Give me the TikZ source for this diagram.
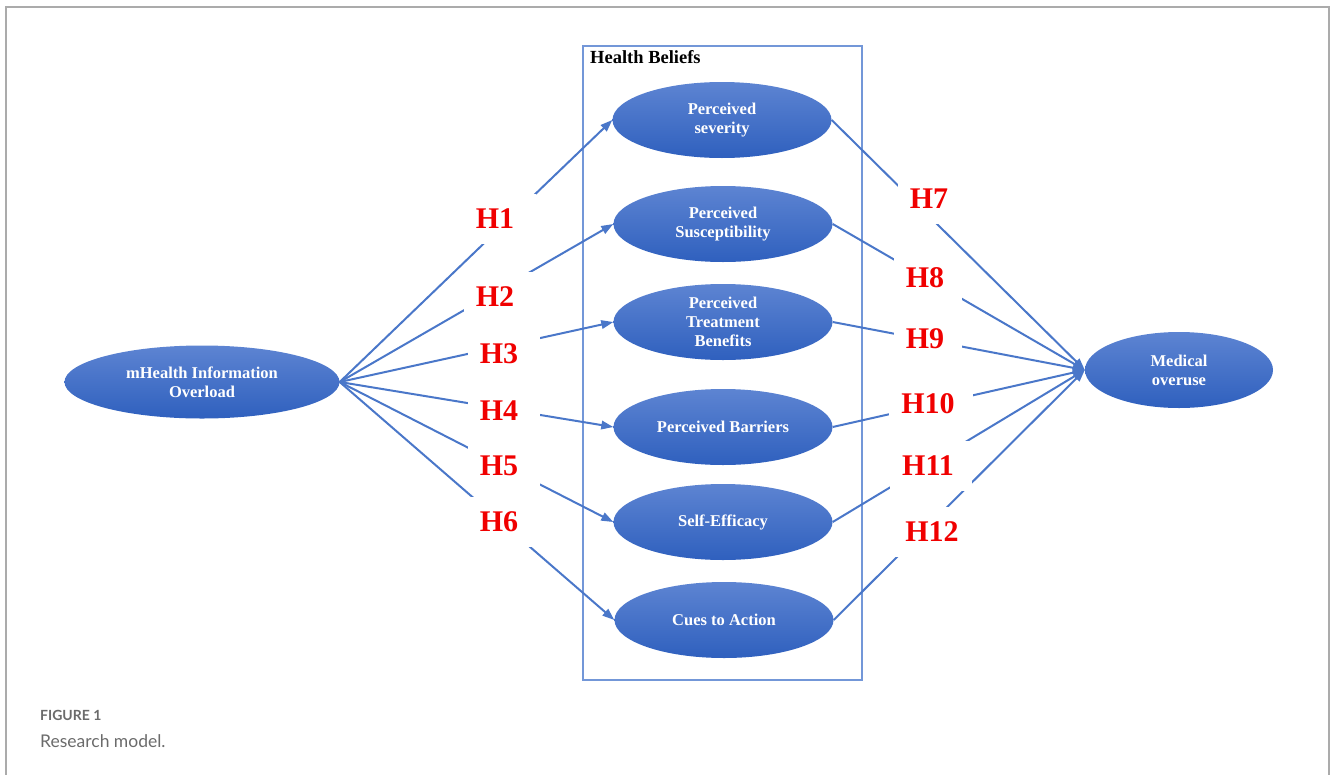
\documentclass[tikz,border=0pt]{standalone}
\usepackage{fontspec}
\setmainfont{Liberation Serif}
\newfontfamily\capfont{Lato}
\usetikzlibrary{arrows.meta,shapes.geometric}
\definecolor{linecol}{HTML}{4A77C9}
\definecolor{boxcol}{HTML}{7397D8}
\definecolor{elltop}{HTML}{5D84D2}
\definecolor{ellbot}{HTML}{2F60BE}
\definecolor{hred}{HTML}{F00000}
\definecolor{framegray}{HTML}{ABABAB}
\definecolor{capgray}{HTML}{6B6B6B}
\tikzset{
  oval/.style={ellipse, top color=elltop, bottom color=ellbot, draw=none,
    inner sep=0pt, align=center, text=white,
    font=\fontsize{16.5}{19}\selectfont\bfseries},
  belief/.style={oval, minimum width=219pt, minimum height=76pt},
  hyp/.style={fill=white, text=hred, inner xsep=12pt, inner ysep=0pt,
    minimum height=50pt, font=\fontsize{30}{30}\selectfont\bfseries},
  conn/.style={draw=linecol, line width=2pt},
  arr/.style={conn, -{Triangle[length=12pt,width=8.5pt]}}
}
\begin{document}
\begin{tikzpicture}[x=1pt,y=-1pt]
\useasboundingbox (0,0) rectangle (1330,774);
% outer frame
\draw[framegray, line width=1.5pt] (6,800) -- (6,7) -- (1329,7) -- (1329,800);
% Health beliefs box
\node[draw=boxcol, line width=1.5pt, minimum width=279pt, minimum height=634pt, inner sep=0pt] (hb) at (722.5,363) {};
\node[anchor=north west, inner sep=0pt, font=\fontsize{18.5}{18.5}\selectfont\bfseries] (hbt) at (590,50) {Health Beliefs};
% ellipses
\node[oval, minimum width=275pt, minimum height=73pt] (mh) at (202,382) {mHealth Information\\Overload};
\node[oval, minimum width=188pt, minimum height=76pt] (mo) at (1179,370) {Medical\\overuse};
\node[belief] (b1) at (722,120) {Perceived\\severity};
\node[belief] (b2) at (723,224) {Perceived\\Susceptibility};
\node[belief] (b3) at (723,322) {Perceived\\Treatment\\Benefits};
\node[belief] (b4) at (723,427) {Perceived Barriers};
\node[belief] (b5) at (723,522) {Self-Efficacy};
\node[belief] (b6) at (724,620) {Cues to Action};
% connectors
\foreach \b in {b1,b2,b3,b4,b5,b6}{
  \draw[arr] (mh.east) -- (\b.west);
  \draw[arr] (\b.east) -- (mo.west);
}
% hypothesis labels (text centre + 5 to the right for the wider box)
\node[hyp] (h1) at (500,219) {H1\kern10pt};
\node[hyp] (h2) at (500,297) {H2\kern10pt};
\node[hyp] (h3) at (504,354) {H3\kern10pt};
\node[hyp] (h4) at (504,411) {H4\kern10pt};
\node[hyp] (h5) at (504,466) {H5\kern10pt};
\node[hyp] (h6) at (504,522) {H6\kern10pt};
\node[hyp] (h7) at (932,199) {H7\kern6pt};
\node[hyp] (h8) at (928,278) {H8\kern6pt};
\node[hyp] (h9) at (928,339) {H9\kern6pt};
\node[hyp] (h10) at (931,404) {H10\kern6pt};
\node[hyp] (h11) at (931,466) {H11\kern6pt};
\node[hyp] (h12) at (935,532) {H12\kern6pt};
% caption
\node[anchor=west, inner sep=0pt, text=capgray, font=\capfont\fontsize{14}{14}\selectfont\bfseries] (fig) at (40,715) {FIGURE 1};
\node[anchor=west, inner sep=0pt, text=capgray, font=\capfont\fontsize{17.5}{18}\selectfont] (cap) at (40,741) {Research model.};
\end{tikzpicture}
\end{document}
